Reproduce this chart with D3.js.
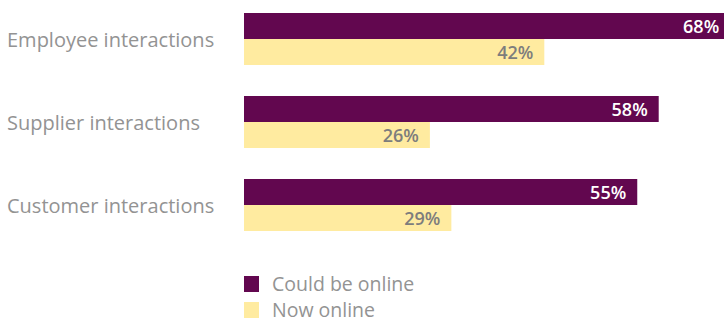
<!DOCTYPE html>
<html>
<head>
    <meta charset="utf-8">
    <title>Online interactions</title>
    <style>
        body { margin: 0; background: #fff; }
        text { font-family: "Open Sans", "Noto Sans", sans-serif; }
    </style>
</head>
<body>
    <script src="https://cdn.jsdelivr.net/npm/d3@7"></script>
    <script type="text/javascript">

    var categories = ["Employee interactions", "Supplier interactions", "Customer interactions"];
    var series = ["Could be online", "Now online"];
    var couldBe = [68, 58, 55];
    var nowOnline = [42, 26, 29];

    var colors = ["#62074f", "#ffeba0"];
    var labelColors = ["#ffffff", "#7d7d7d"];

    var width = 724, height = 320;

    var svg = d3.select("body")
        .append("svg")
        .attr("width", width)
        .attr("height", height);

    // value scale, the first bar runs off the right edge like the original
    var x = d3.scaleLinear().domain([0, 100]).range([244, 959]);

    var y0 = d3.scaleBand()
        .domain(categories)
        .range([13, 231])
        .paddingInner(31 / 83);

    var y1 = d3.scaleBand()
        .domain(series)
        .range([0, y0.bandwidth()]);

    var rows = categories.map(function(c, i) {
        return { cat: c, values: [couldBe[i], nowOnline[i]] };
    });

    var group = svg.selectAll(".grp")
        .data(rows)
        .enter().append("g")
        .attr("class", "grp")
        .attr("transform", function(d) { return "translate(0," + y0(d.cat) + ")"; });

    group.selectAll("rect")
        .data(function(d) { return d.values.map(function(v, j) { return { s: series[j], v: v, j: j }; }); })
        .enter().append("rect")
        .attr("x", x(0))
        .attr("y", function(d) { return y1(d.s); })
        .attr("width", function(d) { return x(d.v) - x(0); })
        .attr("height", y1.bandwidth())
        .style("fill", function(d) { return colors[d.j]; });

    group.selectAll(".val")
        .data(function(d) { return d.values.map(function(v, j) { return { s: series[j], v: v, j: j }; }); })
        .enter().append("text")
        .attr("class", "val")
        .attr("x", function(d) { return x(d.v) - 11; })
        .attr("y", function(d) { return y1(d.s) + y1.bandwidth() / 2 + 6.5; })
        .attr("text-anchor", "end")
        .text(function(d) { return d.v + "%"; })
        .style("font-size", "18px")
        .style("font-weight", "600")
        .style("fill", function(d) { return labelColors[d.j]; });

    // category names on the left
    group.append("text")
        .attr("x", 7)
        .attr("y", y0.bandwidth() / 2 + 7.5)
        .text(function(d) { return d.cat; })
        .style("font-size", "20px")
        .style("fill", "#939393");

    // legend
    var legend = svg.selectAll(".legend")
        .data(series)
        .enter().append("g")
        .attr("class", "legend")
        .attr("transform", function(d, i) { return "translate(244," + (276 + i * 26) + ")"; });

    legend.append("rect")
        .attr("width", 15)
        .attr("height", 16)
        .style("fill", function(d, i) { return colors[i]; });

    legend.append("text")
        .attr("x", 28)
        .attr("y", 14.5)
        .text(function(d) { return d; })
        .style("font-size", "19.5px")
        .style("fill", "#939393");

    </script>
</body>
</html>
